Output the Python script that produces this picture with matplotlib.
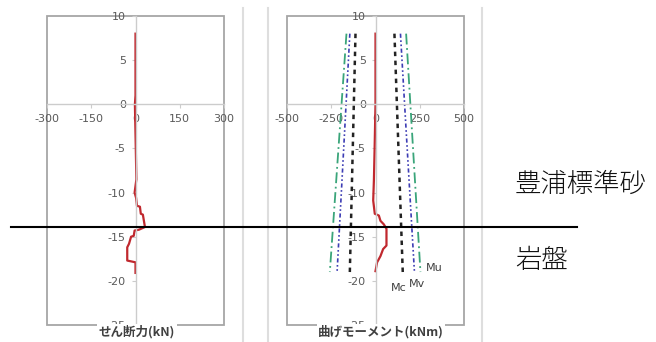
import matplotlib
matplotlib.use("Agg")
import matplotlib.pyplot as plt
from matplotlib.lines import Line2D
from matplotlib.patches import Rectangle

plt.rcParams['font.family'] = ['DejaVu Sans', 'Noto Sans CJK JP']
plt.rcParams['axes.unicode_minus'] = False

# shear force (kN) along depth (m)
shear_depth = [8, 1, 0, -5, -8.5, -10, -10.6, -11.5, -11.6, -12.4, -12.5, -13.9,
               -14.2, -14.3, -14.9, -15.0, -15.8, -16.2, -17.7, -17.9, -19.1]
shear_kn = [0, 0, -2, 1, 3, -3, 2, 5, 15, 18, 25, 32,
            12, -3, -6, -15, -22, -28, -28, 0, 0]

# bending moment (kNm) along depth (m)
moment_depth = [8, 0, -5, -8.6, -10.9, -12.4, -12.6, -13.2, -13.6, -14.1,
                -16.0, -16.4, -17.2, -17.9, -18.9]
moment_knm = [0, 0, -5, -9, -13, -4, 19, 28, 47, 62, 62, 43, 28, 9, 0]

# capacity lines (top / bottom of pile)
cap_depth = [8, -19]
mc_left = [-113, -145]
mc_right = [107, 154]
mv_left = [-145, -217]
mv_right = [141, 220]
mu_left = [-164, -258]
mu_right = [173, 254]

boundary_depth = -13.9

W, H = 656, 342
fig = plt.figure(figsize=(W / 100, H / 100), dpi=100)

box_gray = '#a6a6a6'
axis_gray = '#cccccc'
red = '#c0282e'


def setup(ax, xlim, xticks):
    ax.set_xlim(xlim)
    ax.set_ylim(-25, 10)
    ax.spines['left'].set_position(('data', 0))
    ax.spines['bottom'].set_position(('data', 0))
    ax.spines['top'].set_visible(False)
    ax.spines['right'].set_visible(False)
    for s in ('left', 'bottom'):
        ax.spines[s].set_color(axis_gray)
        ax.spines[s].set_linewidth(1.0)
    ax.add_patch(Rectangle((0, 0), 1, 1, transform=ax.transAxes, fill=False,
                           ec=box_gray, lw=1.3, clip_on=False, zorder=0.5))
    ax.set_xticks(xticks)
    ax.set_yticks(range(-25, 11, 5))
    ax.tick_params(colors=axis_gray, labelcolor='#595959', labelsize=8,
                   length=3, pad=4)
    ax.patch.set_alpha(0)


ax1 = fig.add_axes([47 / W, 17 / H, 177 / W, 309 / H])
setup(ax1, (-300, 300), [-300, -150, 0, 150, 300])
ax1.plot(shear_kn, shear_depth, color=red, lw=1.6)

ax2 = fig.add_axes([287 / W, 17 / H, 177 / W, 309 / H])
setup(ax2, (-500, 500), [-500, -250, 0, 250, 500])
mu_style = dict(color='#3aa57a', lw=1.3, linestyle=(0, (6, 2, 1, 2)))
mv_style = dict(color='#3c3cb4', lw=1.2, linestyle=(0, (2.5, 1.5, 1, 1.5, 1, 1.5)))
mc_style = dict(color='#222222', lw=1.8, linestyle=(0, (1.8, 1.8)))
ax2.plot(mu_left, cap_depth, **mu_style)
ax2.plot(mu_right, cap_depth, **mu_style)
ax2.plot(mv_left, cap_depth, **mv_style)
ax2.plot(mv_right, cap_depth, **mv_style)
ax2.plot(mc_left, cap_depth, **mc_style)
ax2.plot(mc_right, cap_depth, **mc_style)
ax2.plot(moment_knm, moment_depth, color=red, lw=1.6)

ax2.text(285, -18.6, 'Mu', fontsize=8, color='#404040', ha='left', va='center')
ax2.text(190, -20.3, 'Mv', fontsize=8, color='#404040', ha='left', va='center')
ax2.text(85, -20.8, 'Mc', fontsize=8, color='#404040', ha='left', va='center')

title_box = dict(facecolor='white', edgecolor='none', pad=1)
fig.text(137 / W, 1 - 332 / H, 'せん断力(kN)', fontsize=9, fontweight='bold',
         color='#404040', ha='center', va='center', bbox=title_box, zorder=5,
         family=['Noto Sans CJK JP', 'DejaVu Sans'])
fig.text(381 / W, 1 - 332 / H, '曲げモーメント(kNm)', fontsize=9, fontweight='bold',
         color='#404040', ha='center', va='center', bbox=title_box, zorder=5,
         family=['Noto Sans CJK JP', 'DejaVu Sans'])

# chart area borders
for xp in (243, 268, 482):
    fig.add_artist(Line2D([xp / W, xp / W], [0, 1 - 8 / H], color='#dedede', lw=1.5))

# soil boundary line
yb = fig.transFigure.inverted().transform(ax1.transData.transform((0, boundary_depth)))[1]
fig.add_artist(Line2D([11 / W, 577 / W], [yb, yb], color='black', lw=1.5))

fig.text(515 / W, 1 - 184 / H, '豊浦標準砂', fontsize=19, color='#111111',
         ha='left', va='center', fontweight='light', family=['Noto Sans CJK JP'])
fig.text(515 / W, 1 - 260 / H, '岩盤', fontsize=19, color='#111111',
         ha='left', va='center', fontweight='light', family=['Noto Sans CJK JP'])

fig.savefig('out.png', dpi=100)
